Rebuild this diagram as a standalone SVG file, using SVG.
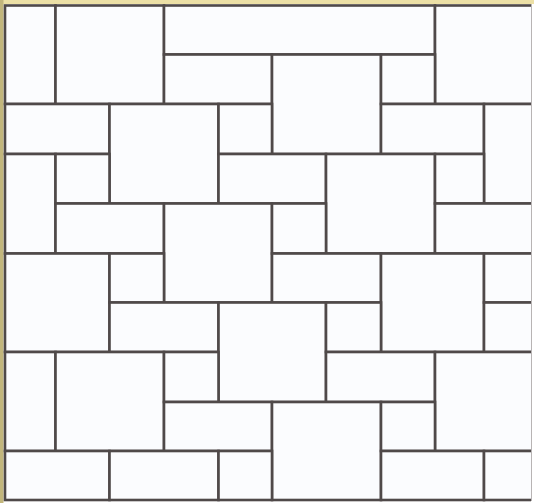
<svg xmlns="http://www.w3.org/2000/svg" width="534" height="503" viewBox="0 0 534 503">
<style>
.t{fill:#fbfcfe;stroke:#4f4949;stroke-width:2.6}
</style>
<defs>
<clipPath id="c"><rect x="0" y="0" width="531" height="503"/></clipPath>
</defs>
<rect x="0" y="0" width="534" height="503" fill="#ffffff"/>
<rect x="0" y="0" width="534" height="4" fill="#ece0a6"/>
<rect x="0" y="0" width="3.5" height="503" fill="#c2b67c"/>
<g id="tiles" clip-path="url(#c)">
<rect class="t" x="5" y="5.5" width="50.5" height="98.5"/>
<rect class="t" x="55.5" y="5.5" width="108.5" height="98.5"/>
<rect class="t" x="164" y="5.5" width="271" height="49"/>
<rect class="t" x="435" y="5.5" width="99" height="98.5"/>
<rect class="t" x="164" y="54.5" width="108" height="49.5"/>
<rect class="t" x="272" y="54.5" width="109" height="99.5"/>
<rect class="t" x="381" y="54.5" width="54" height="49.5"/>
<rect class="t" x="5" y="104" width="104.5" height="50"/>
<rect class="t" x="109.5" y="104" width="109" height="99.5"/>
<rect class="t" x="218.5" y="104" width="53.5" height="50"/>
<rect class="t" x="381" y="104" width="103" height="50"/>
<rect class="t" x="484" y="104" width="50" height="99.5"/>
<rect class="t" x="5" y="154" width="50.5" height="99.5"/>
<rect class="t" x="55.5" y="154" width="54" height="49.5"/>
<rect class="t" x="218.5" y="154" width="107.5" height="49.5"/>
<rect class="t" x="326" y="154" width="109" height="99.5"/>
<rect class="t" x="435" y="154" width="49" height="49.5"/>
<rect class="t" x="55.5" y="203.5" width="108.5" height="50"/>
<rect class="t" x="164" y="203.5" width="108" height="99"/>
<rect class="t" x="272" y="203.5" width="54" height="50"/>
<rect class="t" x="435" y="203.5" width="99" height="50"/>
<rect class="t" x="5" y="253.5" width="104.5" height="98.5"/>
<rect class="t" x="109.5" y="253.5" width="54.5" height="49"/>
<rect class="t" x="272" y="253.5" width="109" height="49"/>
<rect class="t" x="381" y="253.5" width="103" height="98.5"/>
<rect class="t" x="484" y="253.5" width="50" height="49"/>
<rect class="t" x="109.5" y="302.5" width="109" height="49.5"/>
<rect class="t" x="218.5" y="302.5" width="107.5" height="99.5"/>
<rect class="t" x="326" y="302.5" width="55" height="49.5"/>
<rect class="t" x="484" y="302.5" width="50" height="49.5"/>
<rect class="t" x="5" y="352" width="50.5" height="99"/>
<rect class="t" x="55.5" y="352" width="108.5" height="99"/>
<rect class="t" x="164" y="352" width="54.5" height="50"/>
<rect class="t" x="326" y="352" width="109" height="50"/>
<rect class="t" x="435" y="352" width="99" height="99"/>
<rect class="t" x="164" y="402" width="108" height="49"/>
<rect class="t" x="272" y="402" width="109" height="98"/>
<rect class="t" x="381" y="402" width="54" height="49"/>
<rect class="t" x="5" y="451" width="104.5" height="49"/>
<rect class="t" x="109.5" y="451" width="109" height="49"/>
<rect class="t" x="218.5" y="451" width="53.5" height="49"/>
<rect class="t" x="381" y="451" width="103" height="49"/>
<rect class="t" x="484" y="451" width="50" height="49"/>
</g>
<line x1="531.5" y1="4" x2="531.5" y2="501" stroke="#b8b4b4" stroke-width="1"/>
</svg>
